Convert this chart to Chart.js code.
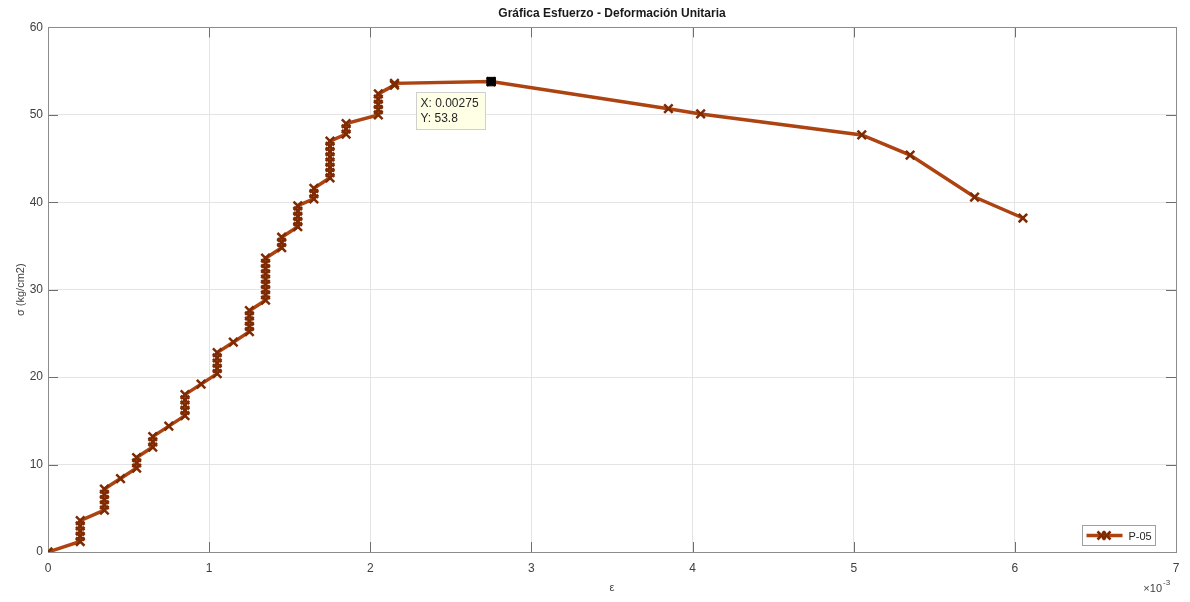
<!DOCTYPE html>
<html>
<head>
<meta charset="utf-8">
<title>Gráfica Esfuerzo - Deformación Unitaria</title>
<script src="https://cdn.jsdelivr.net/npm/chart.js@4.4.1/dist/chart.umd.min.js"></script>
<style>
  html, body { margin: 0; padding: 0; background: #fff; }
  #wrap { width: 1190px; height: 602px; }
</style>
</head>
<body>
<div id="wrap"><canvas id="stressStrainChart" width="1190" height="602"></canvas></div>
<script>
// Stress - unit strain readings, specimen P-05
const seriesLabel = 'P-05';

const strain = [
    0,
    0.0002, 0.0002, 0.0002, 0.0002, 0.0002,
    0.00035, 0.00035, 0.00035, 0.00035, 0.00035,
    0.00045,
    0.00055, 0.00055, 0.00055,
    0.00065, 0.00065, 0.00065,
    0.00075,
    0.00085, 0.00085, 0.00085, 0.00085, 0.00085,
    0.00095,
    0.00105, 0.00105, 0.00105, 0.00105, 0.00105,
    0.00115,
    0.00125, 0.00125, 0.00125, 0.00125, 0.00125,
    0.00135, 0.00135, 0.00135, 0.00135, 0.00135, 0.00135, 0.00135, 0.00135, 0.00135,
    0.00145, 0.00145, 0.00145,
    0.00155, 0.00155, 0.00155, 0.00155, 0.00155,
    0.00165, 0.00165, 0.00165,
    0.00175, 0.00175, 0.00175, 0.00175, 0.00175, 0.00175, 0.00175, 0.00175,
    0.00185, 0.00185, 0.00185,
    0.00205, 0.00205, 0.00205, 0.00205, 0.00205,
    0.00215, 0.00215,
    0.00275,
    0.00385,
    0.00405,
    0.00505,
    0.00535,
    0.00575,
    0.00605
];

const stress = [
    0,
    1.2, 1.8, 2.4, 3.0, 3.6,
    4.8, 5.4, 6.0, 6.6, 7.2,
    8.4,
    9.6, 10.2, 10.8,
    12.0, 12.6, 13.2,
    14.4,
    15.6, 16.2, 16.8, 17.4, 18.0,
    19.2,
    20.4, 21.0, 21.6, 22.2, 22.8,
    24.0,
    25.2, 25.8, 26.4, 27.0, 27.6,
    28.8, 29.4, 30.0, 30.6, 31.2, 31.8, 32.4, 33.0, 33.6,
    34.8, 35.4, 36.0,
    37.2, 37.8, 38.4, 39.0, 39.6,
    40.4, 41.0, 41.6,
    42.8, 43.4, 44.0, 44.6, 45.2, 45.8, 46.4, 47.0,
    47.8, 48.4, 49.0,
    50.0, 50.6, 51.2, 51.8, 52.4,
    53.4, 53.6,
    53.8,
    50.7,
    50.1,
    47.7,
    45.4,
    40.6,
    38.2
];

// data tip shown on the curve
const tipStrain = 0.00275;
const tipStress = 53.8;

const xTickValues = [0, 0.001, 0.002, 0.003, 0.004, 0.005, 0.006, 0.007];
const yTickValues = [0, 10, 20, 30, 40, 50, 60];

const lineColor = '#AC4311';
const markerColor = '#7E2A02';
const axisColor = '#8c8c8c';
const textColor = '#404040';
const fontFamily = '"Liberation Sans", Arial, Helvetica, sans-serif';

// box around the axes + inward tick marks (MATLAB style)
const axesBox = {
    id: 'axesBox',
    beforeDatasetsDraw(chart) {
        const { ctx, chartArea: a, scales } = chart;
        const len = 10;
        ctx.save();
        ctx.strokeStyle = '#6e6e6e';
        ctx.lineWidth = 1;
        ctx.beginPath();
        scales.x.ticks.forEach(t => {
            const px = Math.round(scales.x.getPixelForValue(t.value)) + 0.5;
            ctx.moveTo(px, a.bottom); ctx.lineTo(px, a.bottom - len);
            ctx.moveTo(px, a.top); ctx.lineTo(px, a.top + len);
        });
        scales.y.ticks.forEach(t => {
            const py = Math.round(scales.y.getPixelForValue(t.value)) + 0.5;
            ctx.moveTo(a.left, py); ctx.lineTo(a.left + len, py);
            ctx.moveTo(a.right, py); ctx.lineTo(a.right - len, py);
        });
        ctx.stroke();
        ctx.strokeStyle = axisColor;
        ctx.strokeRect(Math.round(a.left) + 0.5, Math.round(a.top) + 0.5,
            Math.round(a.right - a.left), Math.round(a.bottom - a.top));
        ctx.restore();
    },
    afterDraw(chart) {
        // exponent label under the x axis
        const { ctx, chartArea: a } = chart;
        ctx.save();
        ctx.fillStyle = textColor;
        ctx.textBaseline = 'alphabetic';
        ctx.textAlign = 'right';
        ctx.font = '11px ' + fontFamily;
        ctx.fillText('\u00d710', a.right - 14, 592);
        ctx.textAlign = 'left';
        ctx.font = '8px ' + fontFamily;
        ctx.fillText('-3', a.right - 13, 585);
        ctx.restore();
    }
};

// data tip box + legend drawn inside the plot area
const overlays = {
    id: 'overlays',
    afterDatasetsDraw(chart) {
        const { ctx, chartArea: a } = chart;
        ctx.save();

        // data tip
        const pt = chart.getDatasetMeta(1).data[0];
        const bx = Math.round(pt.x - 75) + 0.5;
        const by = Math.round(pt.y + 10) + 0.5;
        ctx.fillStyle = '#ffffe6';
        ctx.strokeStyle = '#cfcfcf';
        ctx.lineWidth = 1;
        ctx.fillRect(bx, by, 69, 37);
        ctx.strokeRect(bx, by, 69, 37);
        ctx.fillStyle = '#262626';
        ctx.font = '12px ' + fontFamily;
        ctx.textAlign = 'left';
        ctx.textBaseline = 'middle';
        ctx.fillText('X: ' + tipStrain, bx + 4, by + 11);
        ctx.fillText('Y: ' + tipStress, bx + 4, by + 26);

        // legend
        const lx = Math.round(a.right - 94) + 0.5;
        const ly = Math.round(a.bottom - 27) + 0.5;
        ctx.fillStyle = '#ffffff';
        ctx.strokeStyle = '#a0a0a0';
        ctx.fillRect(lx, ly, 73, 20);
        ctx.strokeRect(lx, ly, 73, 20);
        const my = ly + 10;
        ctx.strokeStyle = lineColor;
        ctx.lineWidth = 3.5;
        ctx.beginPath();
        ctx.moveTo(lx + 4, my); ctx.lineTo(lx + 40, my);
        ctx.stroke();
        ctx.strokeStyle = markerColor;
        ctx.lineWidth = 2.5;
        ctx.beginPath();
        [lx + 19, lx + 24].forEach(cx => {
            ctx.moveTo(cx - 4, my - 4); ctx.lineTo(cx + 4, my + 4);
            ctx.moveTo(cx - 4, my + 4); ctx.lineTo(cx + 4, my - 4);
        });
        ctx.stroke();
        ctx.fillStyle = '#262626';
        ctx.font = '11px ' + fontFamily;
        ctx.fillText(seriesLabel, lx + 46, my + 1);

        ctx.restore();
    }
};

document.addEventListener('DOMContentLoaded', function () {
    const ctx = document.getElementById('stressStrainChart');
    if (!ctx) return;

    new Chart(ctx, {
        type: 'scatter',
        data: {
            datasets: [{
                label: seriesLabel,
                data: strain.map((x, i) => ({ x: x, y: stress[i] })),
                showLine: true,
                borderColor: lineColor,
                borderWidth: 3.5,
                pointStyle: 'crossRot',
                pointRadius: 6,
                pointBorderWidth: 2.5,
                pointBorderColor: markerColor,
                pointBackgroundColor: markerColor,
                order: 1
            }, {
                label: 'datatip',
                data: [{ x: tipStrain, y: tipStress }],
                pointStyle: 'rect',
                pointRadius: 6,
                pointBorderWidth: 1,
                pointBackgroundColor: '#000000',
                pointBorderColor: '#000000',
                order: 0
            }]
        },
        options: {
            responsive: false,
            animation: false,
            layout: {
                padding: { left: 0, right: 14, top: 0, bottom: 0 }
            },
            plugins: {
                legend: { display: false },
                tooltip: { enabled: false },
                title: {
                    display: true,
                    text: 'Gráfica Esfuerzo - Deformación Unitaria',
                    fullSize: false,
                    color: '#1a1a1a',
                    font: { family: fontFamily, size: 12, weight: 'bold' },
                    padding: { top: 6, bottom: 7 }
                }
            },
            scales: {
                x: {
                    type: 'linear',
                    min: 0,
                    max: 0.007,
                    afterBuildTicks: scale => { scale.ticks = xTickValues.map(v => ({ value: v })); },
                    afterFit: scale => { scale.height = 50; },
                    border: { display: false },
                    grid: { color: '#e4e4e4', drawTicks: false },
                    ticks: {
                        color: textColor,
                        padding: 9,
                        maxRotation: 0,
                        font: { family: fontFamily, size: 12 },
                        callback: v => Math.round(v * 1000)
                    },
                    title: {
                        display: true,
                        text: 'ε',
                        color: textColor,
                        font: { family: fontFamily, size: 11 },
                        padding: { top: 0, bottom: 7 }
                    }
                },
                y: {
                    type: 'linear',
                    min: 0,
                    max: 60,
                    afterBuildTicks: scale => { scale.ticks = yTickValues.map(v => ({ value: v })); },
                    afterFit: scale => { scale.width = 48; },
                    border: { display: false },
                    grid: { color: '#e4e4e4', drawTicks: false },
                    ticks: {
                        color: textColor,
                        padding: 5,
                        font: { family: fontFamily, size: 12 }
                    },
                    title: {
                        display: true,
                        text: 'σ (kg/cm2)',
                        color: textColor,
                        font: { family: fontFamily, size: 11 },
                        padding: { top: 14, bottom: 0 }
                    }
                }
            }
        },
        plugins: [axesBox, overlays]
    });
});
</script>
</body>
</html>
